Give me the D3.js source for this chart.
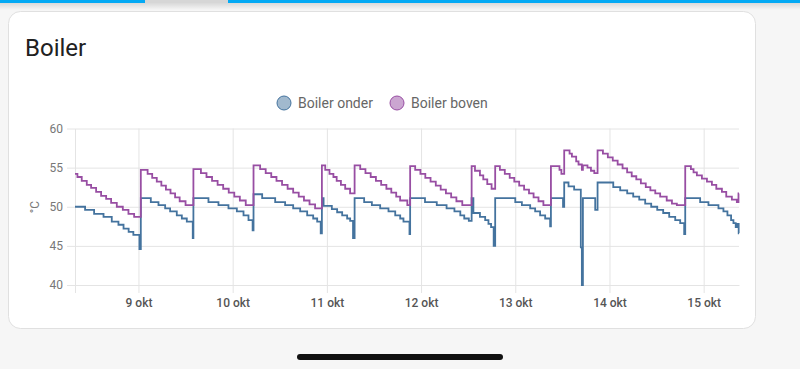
<!DOCTYPE html>
<html>
<head>
<meta charset="utf-8">
<script src="https://cdn.jsdelivr.net/npm/d3@7"></script>
<style>
  html, body { margin: 0; padding: 0; background: #f6f6f6; }
  svg { display: block; font-family: Roboto, "Noto Sans", sans-serif; }
</style>
</head>
<body>
<div id="chart"></div>
<script>
// data (time = day-of-october + time, temps in °C)
const seriesNames = ["Boiler onder", "Boiler boven"];
const seriesColors = ["#44739e", "#984ea3"];
const yTicks = [40, 45, 50, 55, 60];
const dayTicks = ["09 00:00", "10 00:00", "11 00:00", "12 00:00", "13 00:00", "14 00:00", "15 00:00"];
const dayLabels = ["9 okt", "10 okt", "11 okt", "12 okt", "13 okt", "14 okt", "15 okt"];
const timeRange = ["08 07:50", "15 09:00"];

const onder = [
  ["08 07:50", 50.0], ["08 10:24", 49.6], ["08 12:42", 49.1], ["08 15:06", 48.7], ["08 17:12", 48.1],
  ["08 18:54", 47.7], ["08 20:12", 47.2], ["08 21:30", 46.8], ["08 22:42", 46.4], ["09 00:15", 44.6],
  ["09 00:36", 51.1], ["09 03:09", 50.6], ["09 05:06", 50.2], ["09 06:48", 49.8], ["09 08:04", 49.4],
  ["09 09:46", 48.9], ["09 11:03", 48.5], ["09 12:19", 48.1], ["09 13:50", 46.0],
  ["09 14:00", 51.1], ["09 17:50", 50.6], ["09 20:23", 50.2], ["09 22:56", 49.8], ["10 01:04", 49.4],
  ["10 02:46", 48.9], ["10 04:02", 48.3], ["10 05:05", 47.0],
  ["10 05:19", 51.6], ["10 07:31", 51.1], ["10 10:50", 50.6], ["10 13:22", 50.2], ["10 15:25", 49.8],
  ["10 17:12", 49.4], ["10 18:59", 48.9], ["10 20:31", 48.5], ["10 21:32", 48.1], ["10 22:26", 46.6],
  ["10 22:44", 51.1], ["10 23:10", 50.1], ["11 01:16", 49.7], ["11 02:37", 49.3], ["11 03:54", 48.9],
  ["11 05:10", 48.5], ["11 05:56", 48.2], ["11 06:40", 46.0],
  ["11 07:04", 51.1], ["11 09:30", 50.6], ["11 11:28", 50.2], ["11 13:35", 49.8], ["11 15:42", 49.4],
  ["11 17:25", 48.9], ["11 18:41", 48.5], ["11 19:31", 48.1], ["11 21:03", 46.5],
  ["11 21:13", 51.1], ["12 01:00", 50.6], ["12 04:00", 50.2], ["12 06:30", 49.8], ["12 08:30", 49.4],
  ["12 10:00", 48.9], ["12 11:00", 48.5], ["12 12:10", 48.2],
  ["12 12:53", 51.1], ["12 13:20", 49.2], ["12 15:00", 48.7], ["12 16:20", 48.3], ["12 17:10", 47.8],
  ["12 17:50", 47.4], ["12 18:30", 45.0],
  ["12 18:53", 51.1], ["13 00:00", 50.6], ["13 01:41", 50.2], ["13 03:48", 49.8], ["13 05:04", 49.4],
  ["13 06:20", 48.9], ["13 07:37", 48.5], ["13 08:53", 47.5],
  ["13 09:05", 51.1], ["13 12:10", 50.0],
  ["13 12:28", 53.1], ["13 13:34", 52.6], ["13 15:00", 52.2], ["13 16:42", 44.8], ["13 16:58", 40.0],
  ["13 17:14", 51.1], ["13 20:22", 49.6],
  ["13 20:58", 53.1], ["14 00:58", 52.5], ["14 02:44", 52.1], ["14 04:31", 51.7], ["14 06:03", 51.3],
  ["14 07:35", 50.9], ["14 09:06", 50.4], ["14 10:38", 50.0], ["14 12:10", 49.6], ["14 13:41", 49.2],
  ["14 15:13", 48.7], ["14 16:45", 48.3], ["14 18:01", 47.9], ["14 19:02", 46.5],
  ["14 19:18", 51.1], ["14 23:06", 50.6], ["15 01:13", 50.2], ["15 03:46", 49.8], ["15 05:02", 49.4],
  ["15 06:03", 48.9], ["15 06:59", 48.3], ["15 07:35", 47.9], ["15 08:10", 47.4], ["15 08:32", 47.8],
  ["15 08:55", 46.6], ["15 09:00", 46.6]
];

const boven = [
  ["08 07:50", 54.2], ["08 08:27", 53.8], ["08 09:33", 53.3], ["08 10:50", 52.8], ["08 11:56", 52.4],
  ["08 13:13", 51.9], ["08 14:29", 51.4], ["08 15:46", 51.0], ["08 17:02", 50.5], ["08 18:29", 50.0],
  ["08 20:01", 49.6], ["08 21:27", 49.1], ["08 22:54", 48.7],
  ["09 00:36", 54.7], ["09 02:20", 54.2], ["09 03:30", 53.7], ["09 04:40", 53.2], ["09 05:50", 52.7],
  ["09 07:00", 52.2], ["09 08:10", 51.7], ["09 09:20", 51.2], ["09 10:30", 50.7], ["09 12:00", 50.2],
  ["09 14:00", 54.8], ["09 15:55", 54.3], ["09 17:20", 53.8], ["09 18:45", 53.3], ["09 20:10", 52.8],
  ["09 21:35", 52.3], ["09 23:00", 51.8], ["10 00:25", 51.3], ["10 01:50", 50.8], ["10 03:20", 50.2],
  ["10 05:19", 55.3], ["10 07:00", 54.8], ["10 08:25", 54.3], ["10 09:50", 53.8], ["10 11:10", 53.3],
  ["10 12:35", 52.8], ["10 14:00", 52.3], ["10 15:25", 51.8], ["10 16:50", 51.3], ["10 18:10", 50.8],
  ["10 19:35", 50.3], ["10 21:00", 49.8],
  ["10 22:44", 55.3], ["10 23:35", 54.7], ["11 00:40", 54.2], ["11 01:40", 53.8], ["11 02:30", 53.3],
  ["11 03:35", 52.8], ["11 04:40", 52.3], ["11 05:55", 51.7],
  ["11 07:04", 55.3], ["11 08:30", 54.8], ["11 09:50", 54.3], ["11 11:10", 53.8], ["11 12:30", 53.3],
  ["11 13:50", 52.8], ["11 15:10", 52.3], ["11 16:25", 51.8], ["11 17:40", 51.3], ["11 18:40", 50.8],
  ["11 20:30", 50.2],
  ["11 21:13", 55.2], ["11 22:30", 54.7], ["11 23:50", 54.2], ["12 01:05", 53.7], ["12 02:25", 53.2],
  ["12 03:45", 52.7], ["12 05:00", 52.2], ["12 06:20", 51.7], ["12 07:40", 51.2], ["12 09:00", 50.7],
  ["12 10:30", 50.2],
  ["12 12:53", 55.2], ["12 13:44", 54.6], ["12 15:00", 54.0], ["12 15:51", 53.5], ["12 16:52", 52.9],
  ["12 17:58", 52.3],
  ["12 18:53", 55.2], ["12 20:05", 54.7], ["12 21:20", 54.2], ["12 22:35", 53.7], ["12 23:45", 53.2],
  ["13 01:00", 52.7], ["13 02:15", 52.2], ["13 03:30", 51.7], ["13 04:40", 51.2], ["13 05:55", 50.7],
  ["13 07:10", 50.2],
  ["13 09:05", 55.2], ["13 11:16", 54.7], ["13 11:45", 54.2],
  ["13 12:28", 57.2], ["13 13:50", 56.8], ["13 14:26", 56.4], ["13 15:31", 55.8], ["13 16:07", 55.4],
  ["13 16:58", 54.7], ["13 17:14", 55.3], ["13 18:24", 55.0], ["13 19:17", 54.6], ["13 20:08", 54.3],
  ["13 20:58", 57.2], ["13 22:20", 56.8], ["13 23:35", 56.3], ["14 00:50", 55.9], ["14 02:05", 55.4],
  ["14 03:20", 54.9], ["14 04:30", 54.4], ["14 05:40", 53.9], ["14 06:50", 53.5], ["14 08:00", 53.0],
  ["14 09:15", 52.5], ["14 10:25", 52.1], ["14 11:40", 51.7], ["14 12:55", 51.3], ["14 14:35", 50.8],
  ["14 15:55", 50.4], ["14 17:10", 50.2],
  ["14 19:18", 55.2], ["14 20:45", 54.8], ["14 21:25", 54.4], ["14 22:16", 54.0], ["14 23:33", 53.6],
  ["15 00:50", 53.2], ["15 02:06", 52.8], ["15 03:13", 52.3], ["15 04:39", 51.9], ["15 05:45", 51.3],
  ["15 07:11", 50.9], ["15 08:27", 50.6], ["15 08:52", 51.7], ["15 09:00", 51.7]
];

const parse = d3.timeParse("%Y-%m-%d %H:%M");
const toDate = s => parse("2023-10-" + s);

const width = 800, height = 369;
const margin = { top: 128.5, left: 75, bottom: 84, right: 61 };
const iwidth = width - margin.left - margin.right;
const iheight = height - margin.top - margin.bottom;

const svg = d3.select("#chart").append("svg")
  .attr("width", width)
  .attr("height", height);

// page background + top bar
svg.append("rect").attr("width", width).attr("height", height).attr("fill", "#f6f6f6");
const defs = svg.append("defs");
const grad = defs.append("linearGradient").attr("id", "shadow").attr("x1", 0).attr("y1", 0).attr("x2", 0).attr("y2", 1);
grad.append("stop").attr("offset", 0).attr("stop-color", "#000").attr("stop-opacity", 0.12);
grad.append("stop").attr("offset", 1).attr("stop-color", "#000").attr("stop-opacity", 0);
svg.append("rect").attr("y", 3).attr("width", width).attr("height", 7).attr("fill", "url(#shadow)");
svg.append("rect").attr("width", width).attr("height", 3).attr("fill", "#03a9f4");
svg.append("rect").attr("x", 145).attr("width", 83).attr("height", 3).attr("fill", "#d6d6d6");

// card
svg.append("rect")
  .attr("x", 8.5).attr("y", 11.5).attr("width", 747).attr("height", 317)
  .attr("rx", 12)
  .attr("fill", "#fff")
  .attr("stroke", "#e0e0e0");

svg.append("text")
  .attr("x", 25).attr("y", 56)
  .attr("font-size", 24)
  .attr("fill", "#212121")
  .text("Boiler");

// legend
const legendX = [284, 397];
seriesNames.forEach((name, i) => {
  svg.append("circle")
    .attr("cx", legendX[i]).attr("cy", 103).attr("r", 7)
    .attr("fill", seriesColors[i]).attr("fill-opacity", 0.5)
    .attr("stroke", seriesColors[i]).attr("stroke-width", 1);
  svg.append("text")
    .attr("x", legendX[i] + 14).attr("y", 108)
    .attr("font-size", 14)
    .attr("fill", "#666")
    .text(name);
});

const g = svg.append("g").attr("transform", `translate(${margin.left},${margin.top})`);

const x = d3.scaleTime()
  .domain(timeRange.map(toDate))
  .range([0, iwidth]);

const y = d3.scaleLinear()
  .domain([40, 60])
  .range([iheight, 0]);

const gridColor = "#e4e4e4";

// horizontal grid
g.append("g")
  .call(d3.axisLeft(y).tickValues(yTicks).tickSize(-iwidth).tickFormat(""))
  .call(a => a.select(".domain").remove())
  .call(a => a.selectAll("line").attr("stroke", gridColor));

// vertical grid
g.append("g")
  .attr("transform", `translate(0,${iheight})`)
  .call(d3.axisBottom(x).tickValues(dayTicks.map(toDate)).tickSize(-iheight).tickFormat(""))
  .call(a => a.select(".domain").remove())
  .call(a => a.selectAll("line").attr("stroke", gridColor));

// y axis labels
g.append("g")
  .call(d3.axisLeft(y).tickValues(yTicks).tickSize(8).tickSizeOuter(0).tickPadding(4))
  .call(a => a.select(".domain").attr("stroke", gridColor))
  .call(a => a.selectAll("line").attr("stroke", gridColor))
  .call(a => a.selectAll("text").attr("font-size", 12).attr("fill", "#777").attr("font-family", "Roboto"));

// x axis labels
g.append("g")
  .attr("transform", `translate(0,${iheight})`)
  .call(d3.axisBottom(x).tickValues(dayTicks.map(toDate)).tickSize(8).tickSizeOuter(0).tickPadding(5)
    .tickFormat((d, i) => dayLabels[i]))
  .call(a => a.select(".domain").attr("stroke", gridColor))
  .call(a => a.selectAll("line").attr("stroke", gridColor))
  .call(a => a.selectAll("text").attr("font-size", 12).attr("font-weight", 500).attr("fill", "#555").attr("font-family", "Roboto"));

// left border extends down to tick length
g.append("line")
  .attr("x1", 0.5).attr("x2", 0.5).attr("y1", iheight).attr("y2", iheight + 8)
  .attr("stroke", gridColor);

svg.append("text")
  .attr("transform", `translate(39,207) rotate(-90)`)
  .attr("text-anchor", "middle")
  .attr("font-size", 12)
  .attr("fill", "#777")
  .text("°C");

const line = d3.line()
  .x(d => x(toDate(d[0])))
  .y(d => y(d[1]))
  .curve(d3.curveStepAfter);

[onder, boven].forEach((data, i) => {
  g.append("path")
    .datum(data)
    .attr("fill", "none")
    .attr("stroke", seriesColors[i])
    .attr("stroke-width", 1.8)
    .attr("d", line);
});

// phone home indicator
svg.append("rect")
  .attr("x", 297).attr("y", 354).attr("width", 206).attr("height", 6)
  .attr("rx", 3).attr("fill", "#111");
</script>
</body>
</html>
